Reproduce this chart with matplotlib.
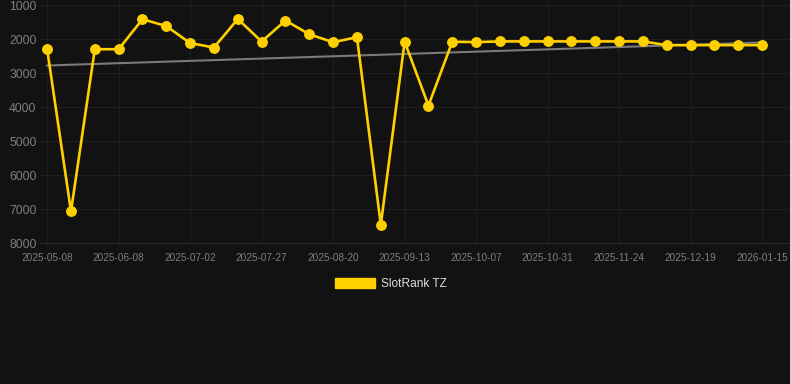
import matplotlib
matplotlib.use("Agg")
import matplotlib.pyplot as plt
from matplotlib.patches import Patch

plt.rcParams["font.family"] = ["Liberation Sans", "DejaVu Sans"]

# data
dates = ["2025-05-08", "2025-05-16", "2025-05-24", "2025-06-08", "2025-06-13", "2025-06-24",
         "2025-07-02", "2025-07-10", "2025-07-18", "2025-07-27", "2025-08-04", "2025-08-12",
         "2025-08-20", "2025-08-28", "2025-09-05", "2025-09-13", "2025-09-21", "2025-09-29",
         "2025-10-07", "2025-10-15", "2025-10-23", "2025-10-31", "2025-11-08", "2025-11-16",
         "2025-11-24", "2025-12-02", "2025-12-10", "2025-12-19", "2025-12-28", "2026-01-06",
         "2026-01-15"]
ranks = [2290, 7070, 2290, 2290, 1405, 1610, 2110, 2240, 1400, 2065, 1445, 1850,
         2085, 1935, 7465, 2070, 3950, 2070, 2080, 2060, 2060, 2060, 2060, 2060,
         2060, 2060, 2170, 2170, 2170, 2170, 2170]
trend = [2770, 2090]  # start / end of the grey trend line
yticks = [1000, 2000, 3000, 4000, 5000, 6000, 7000, 8000]
series_name = "SlotRank TZ"

BG = "#121212"
YELLOW = "#FFD000"
GRID = "#1f1f1f"
TICK = "#7f7f7f"

fig = plt.figure(figsize=(7.9, 3.84), dpi=100, facecolor=BG)
ax = fig.add_axes([40 / 790, 1 - 243 / 384, 750 / 790, 243 / 384])
ax.set_facecolor(BG)

x = list(range(len(dates)))
ax.plot([x[0], x[-1]], trend, color="#7a7a7a", lw=1.5, zorder=2)
ax.plot(x, ranks, color=YELLOW, lw=1.9, marker="o", ms=6.8,
        solid_joinstyle="miter", zorder=3)

ax.set_xlim(-0.3, len(dates) - 1 + 1.17)
ax.set_ylim(8000, 840)
ax.set_yticks(yticks)
ax.set_yticklabels([str(v) for v in yticks], fontsize=8.7, color=TICK)
ax.set_xticks(x[::3])
ax.set_xticklabels(dates[::3], fontsize=7.2, color=TICK)
ax.tick_params(length=0, pad=2.5)
ax.tick_params(axis="x", pad=7)
ax.grid(True, color=GRID, lw=0.8)
for s in ["top", "right", "left"]:
    ax.spines[s].set_visible(False)
ax.spines["bottom"].set_color("#2a2a2a")

fig.legend(handles=[Patch(color=YELLOW, label=series_name)], loc="center",
           bbox_to_anchor=(0.495, 1 - 284 / 384), frameon=False, fontsize=8.6,
           labelcolor="#dddddd", handlelength=3.3, handleheight=1.0, handletextpad=0.5)

fig.savefig("out.png", dpi=100, facecolor=BG)
